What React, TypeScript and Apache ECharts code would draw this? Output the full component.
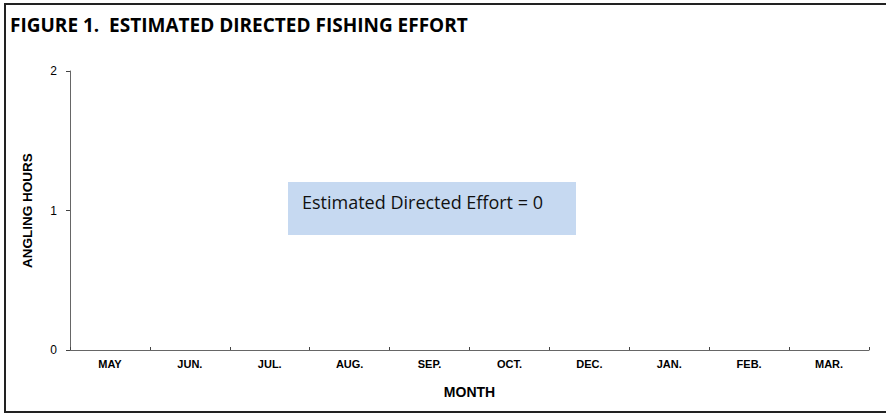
import React, { useEffect, useRef } from "react";
import * as echarts from "echarts";

const months = ["MAY", "JUN.", "JUL.", "AUG.", "SEP.", "OCT.", "DEC.", "JAN.", "FEB.", "MAR."];
const effort = [0, 0, 0, 0, 0, 0, 0, 0, 0, 0];
const yTicks = [0, 1, 2];
const title = "FIGURE 1.  ESTIMATED DIRECTED FISHING EFFORT";
const note = "Estimated Directed Effort = 0";

export default function App() {
  const ref = useRef<HTMLDivElement>(null);
  useEffect(() => {
    if (!ref.current) return;
    const chart = echarts.init(ref.current, null, { renderer: "svg" });
    chart.setOption({
      animation: false,
      backgroundColor: "#ffffff",
      grid: { left: 70, right: 17, top: 71, bottom: 64 },
      xAxis: {
        type: "category",
        data: months,
        boundaryGap: true,
        name: "MONTH",
        nameLocation: "middle",
        nameGap: 35,
        nameTextStyle: { fontFamily: "Liberation Sans, Arial", fontWeight: "bold", fontSize: 14, color: "#000" },
        axisLine: { lineStyle: { color: "#666", width: 1 } },
        axisTick: { show: true, inside: true, length: 3, lineStyle: { color: "#444" } },
        axisLabel: { fontFamily: "Liberation Sans, Arial", fontWeight: "bold", fontSize: 11, color: "#000", margin: 8 },
      },
      yAxis: {
        type: "value",
        min: yTicks[0],
        max: yTicks[yTicks.length - 1],
        interval: 1,
        name: "ANGLING HOURS",
        nameLocation: "middle",
        nameGap: 36,
        nameRotate: 90,
        nameTextStyle: { fontFamily: "Liberation Sans, Arial", fontWeight: "bold", fontSize: 13.5, color: "#000" },
        axisLine: { show: true, lineStyle: { color: "#666", width: 1 } },
        axisTick: { show: true, length: 4, lineStyle: { color: "#444" } },
        splitLine: { show: false },
        axisLabel: { fontFamily: "Liberation Sans, Arial", fontSize: 12, color: "#000", margin: 13 },
      },
      series: [
        {
          type: "bar",
          data: effort,
          itemStyle: { color: "#4f81bd" },
          barWidth: "50%",
        },
      ],
      graphic: [
        {
          type: "rect",
          shape: { x: 5, y: 4, width: 900, height: 408 },
          style: { fill: "none", stroke: "#222", lineWidth: 2 },
          silent: true,
        },
        {
          type: "text",
          x: 10,
          y: 25,
          style: {
            text: title,
            fontFamily: "Open Sans, Noto Sans, sans-serif",
            fontWeight: "bold",
            fontSize: 19,
            fill: "#000",
            textVerticalAlign: "middle",
          },
        },
        {
          type: "rect",
          shape: { x: 288, y: 182, width: 288, height: 53 },
          style: { fill: "#c6d9f1" },
        },
        {
          type: "text",
          x: 302,
          y: 202,
          style: {
            text: note,
            fontFamily: "Open Sans, Noto Sans, sans-serif",
            fontSize: 18,
            fill: "#111",
            textVerticalAlign: "middle",
          },
        },
      ],
    });
    return () => chart.dispose();
  }, []);
  return <div ref={ref} style={{ position: "fixed", left: 0, top: 0, width: 886, height: 414 }} />;
}
